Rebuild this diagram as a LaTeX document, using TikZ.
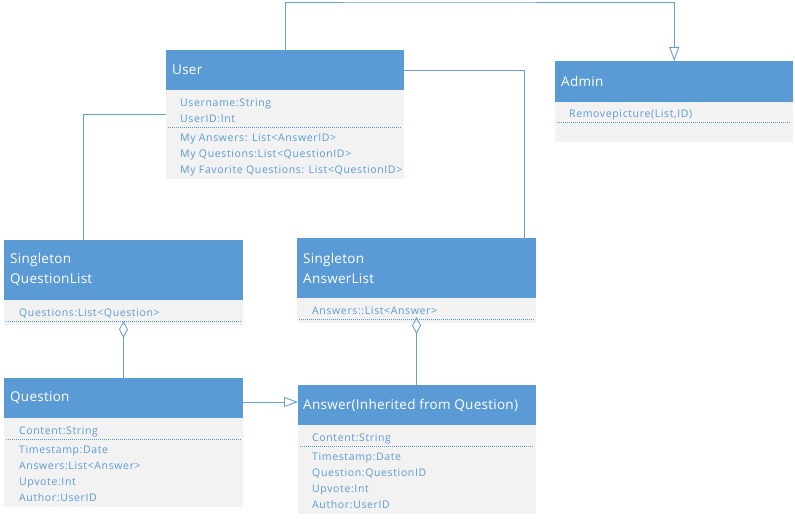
\documentclass[tikz,border=0pt]{standalone}
\usepackage{fontspec}
\setmainfont{Open Sans}
\usetikzlibrary{arrows.meta}
\definecolor{hdr}{HTML}{5B9BD5}
\definecolor{bdy}{HTML}{F2F2F2}
\definecolor{txt}{HTML}{5B9BD5}
\definecolor{lnc}{HTML}{6A9FD4}
\tikzset{
  hbox/.style={fill=hdr, draw=none, anchor=north west, inner sep=0pt},
  bbox/.style={fill=bdy, draw=none, anchor=north west, inner sep=0pt},
  htext/.style={anchor=west, text=white, font=\fontsize{13.5}{20}\selectfont\addfontfeatures{LetterSpace=2}, align=left, inner sep=0pt},
  btext/.style={anchor=west, text=txt, font=\fontsize{10.5}{16}\selectfont\addfontfeatures{LetterSpace=6}, inner sep=0pt, text height=7.5pt, text depth=2pt, yshift=-1.5pt},
  sep/.style={draw=txt, line width=0.7pt, dash pattern=on 1pt off 1pt},
  conn/.style={draw=lnc, line width=0.9pt},
  inh/.style={conn, -{Triangle[open, length=14pt, width=10pt]}},
  agg/.style={conn, {Diamond[open, length=17pt, width=9pt]}-},
}
\begin{document}
\begin{tikzpicture}[x=1pt,y=-1pt]
\useasboundingbox (0,0) rectangle (795,519);
% User
\node[hbox, minimum width=238pt, minimum height=40pt] (uh) at (166,50) {};
\node[bbox, minimum width=238pt, minimum height=89pt] (ub) at (166,90) {};
\node[htext] (ut) at (172,70) {User};
\node[btext] (u1) at (180,102) {Username:String};
\node[btext] (u2) at (180,118) {UserID:Int};
\draw[sep] (168,127.5) -- (402,127.5);
\node[btext] (u3) at (180,137) {My Answers: List<AnswerID>};
\node[btext] (u4) at (180,153) {My Questions:List<QuestionID>};
\node[btext] (u5) at (180,169) {My Favorite Questions: List<QuestionID>};
% Admin
\node[hbox, minimum width=238pt, minimum height=41pt] (adh) at (555,61) {};
\node[bbox, minimum width=238pt, minimum height=40pt] (adb) at (555,102) {};
\node[htext] (adt) at (561,81.5) {Admin};
\node[btext] (ad1) at (569,113) {Removepicture(List,ID)};
\draw[sep] (557,122.5) -- (791,122.5);
% Singleton QuestionList
\node[hbox, minimum width=239pt, minimum height=60pt] (qlh) at (4,240) {};
\node[bbox, minimum width=239pt, minimum height=25pt] (qlb) at (4,300) {};
\node[htext] (qlt) at (10,270) {Singleton\\QuestionList};
\node[btext] (ql1) at (19,312) {Questions:List<Question>};
\draw[sep] (6,321.5) -- (241,321.5);
% Singleton AnswerList
\node[hbox, minimum width=239pt, minimum height=60pt] (alh) at (297,238) {};
\node[bbox, minimum width=239pt, minimum height=25pt] (alb) at (297,298) {};
\node[htext] (alt) at (303,268) {Singleton\\AnswerList};
\node[btext] (al1) at (312,310) {Answers::List<Answer>};
\draw[sep] (299,319.5) -- (534,319.5);
% Question
\node[hbox, minimum width=239pt, minimum height=40pt] (qh) at (4,378) {};
\node[bbox, minimum width=239pt, minimum height=89pt] (qb) at (4,418) {};
\node[htext] (qt) at (10,398) {Question};
\node[btext] (q1) at (19,430) {Content:String};
\draw[sep] (6,439.5) -- (241,439.5);
\node[btext] (q2) at (19,449) {Timestamp:Date};
\node[btext] (q3) at (19,465) {Answers:List<Answer>};
\node[btext] (q4) at (19,481) {Upvote:Int};
\node[btext] (q5) at (19,497) {Author:UserID};
% Answer
\node[hbox, minimum width=238pt, minimum height=40pt] (ah) at (298,385) {};
\node[bbox, minimum width=238pt, minimum height=89pt] (ab) at (298,425) {};
\node[htext] (at) at (303,405) {Answer(Inherited from Question)};
\node[btext] (a1) at (312,437) {Content:String};
\draw[sep] (300,446.5) -- (534,446.5);
\node[btext] (a2) at (312,456) {Timestamp:Date};
\node[btext] (a3) at (312,472) {Question:QuestionID};
\node[btext] (a4) at (312,488) {Upvote:Int};
\node[btext] (a5) at (312,504) {Author:UserID};
% connectors
\coordinate (topline) at (400,2);
\draw[inh] (uh.north) |- (topline) -| (adh.north);
\coordinate (uL) at (166,114);
\coordinate (qlTop) at (83,240);
\draw[conn] (uL) -| (qlTop);
\coordinate (alTop) at (524,238);
\draw[conn] (uh.east) -| (alTop);
\coordinate (qlD) at (123.5,321);
\draw[agg] (qlD) -- (qlD |- qh.north);
\coordinate (alD) at (416.5,317);
\draw[agg] (alD) -- (alD |- ah.north);
\coordinate (qA) at (243,402);
\draw[inh] (qA) -- (qA -| ah.west);
\end{tikzpicture}
\end{document}
